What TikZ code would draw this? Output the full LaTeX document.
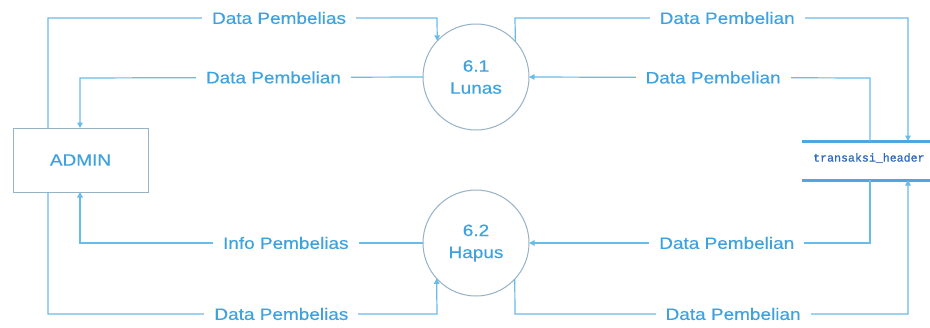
\documentclass[tikz,border=0pt]{standalone}
\usepackage{fontspec}
\setmainfont{Liberation Sans}
\newfontfamily\lblfont[FakeStretch=1.15,FakeBold=0.4]{Liberation Sans}
\newfontfamily\storefont[FakeBold=0.6]{Liberation Mono}
\usetikzlibrary{arrows.meta}
\definecolor{flowblue}{RGB}{105,188,232}
\definecolor{textblue}{RGB}{62,162,222}
\definecolor{edgegray}{RGB}{150,178,198}
\definecolor{storeblue}{RGB}{78,168,224}
\definecolor{storetext}{RGB}{45,105,185}
\tikzset{
  flow/.style={draw=flowblue, line width=1.2pt, -{Triangle[length=5.5pt,width=5.5pt]}},
  lbl/.style={fill=white, text=textblue, inner xsep=10pt, inner ysep=2pt,
              font=\lblfont\fontsize{16.5}{18}\selectfont},
  proc/.style={circle, draw=edgegray, line width=1pt, minimum size=106pt,
               inner sep=0pt, outer sep=0pt, align=center, text=textblue,
               font=\lblfont\fontsize{16.5}{22}\selectfont},
  entity/.style={rectangle, draw=edgegray, line width=1pt, minimum width=135pt,
                 minimum height=64pt, inner sep=0pt, outer sep=0pt, text=textblue,
                 font=\lblfont\fontsize{16.5}{18}\selectfont},
  storeline/.style={draw=storeblue, line width=3pt},
}
\begin{document}
\begin{tikzpicture}[x=1pt, y=-1pt]
\clip (0,0) rectangle (930,327);
\fill[white] (0,0) rectangle (930,327);

% external entity and processes
\node[entity] (admin) at (80.5,160) {ADMIN};
\node[proc] (p61) at (476,77) {6.1\\Lunas};
\node[proc] (p62) at (476,243) {6.2\\Hapus};

% data store
\node[anchor=north west, minimum width=160pt, minimum height=39pt,
      inner sep=0pt, outer sep=0pt] (store) at (802,141) {};
\draw[storeline] (store.north west) -- (store.north east);
\draw[storeline] (store.south west) -- (store.south east);
\node[anchor=west, inner sep=0pt, text=storetext,
      font=\storefont\fontsize{11.6}{14}\selectfont] (storelbl)
      at (813,158) {transaksi\_header};

% corner points of the routed flows
\coordinate (tl) at (48,18);   \coordinate (tm) at (437,18);
\coordinate (ml) at (80,78);
\coordinate (tr1) at (515,18); \coordinate (tr2) at (908,18);
\coordinate (mr) at (870,78);
\coordinate (bl) at (80,243);
\coordinate (ll) at (48,314);  \coordinate (lm) at (437,314);
\coordinate (br) at (870,243);
\coordinate (lr1) at (515,314); \coordinate (lr2) at (908,314);

% flows
\draw[flow] (admin.north -| tl) -- (tl) -- node[lbl,pos=0.594] (f1) {Data Pembelias} (tm) -- (p61.137.4);
\draw[flow] (p61.west) -- node[lbl,pos=0.436] (f2) {Data Pembelian} (ml) -- (admin.north -| ml);
\draw[flow] (p61.42.6) -- (tr1) -- node[lbl,pos=0.54] (f3) {Data Pembelian} (tr2) -- (store.north -| tr2);
\draw[flow] (store.north -| mr) -- (mr) -- node[lbl,pos=0.46] (f4) {Data Pembelian} (p61.east);

\draw[flow] (p62.west) -- node[lbl,pos=0.40] (f5) {Info Pembelias} (bl) -- (admin.south -| bl);
\draw[flow] (admin.south -| ll) -- (ll) -- node[lbl,pos=0.60] (f6) {Data Pembelias} (lm) -- (p62.222.6);
\draw[flow] (store.south -| br) -- (br) -- node[lbl,pos=0.42] (f7) {Data Pembelian} (p62.east);
\draw[flow] (p62.317.4) -- (lr1) -- node[lbl,pos=0.555] (f8) {Data Pembelian} (lr2) -- (store.south -| lr2);
\end{tikzpicture}
\end{document}
